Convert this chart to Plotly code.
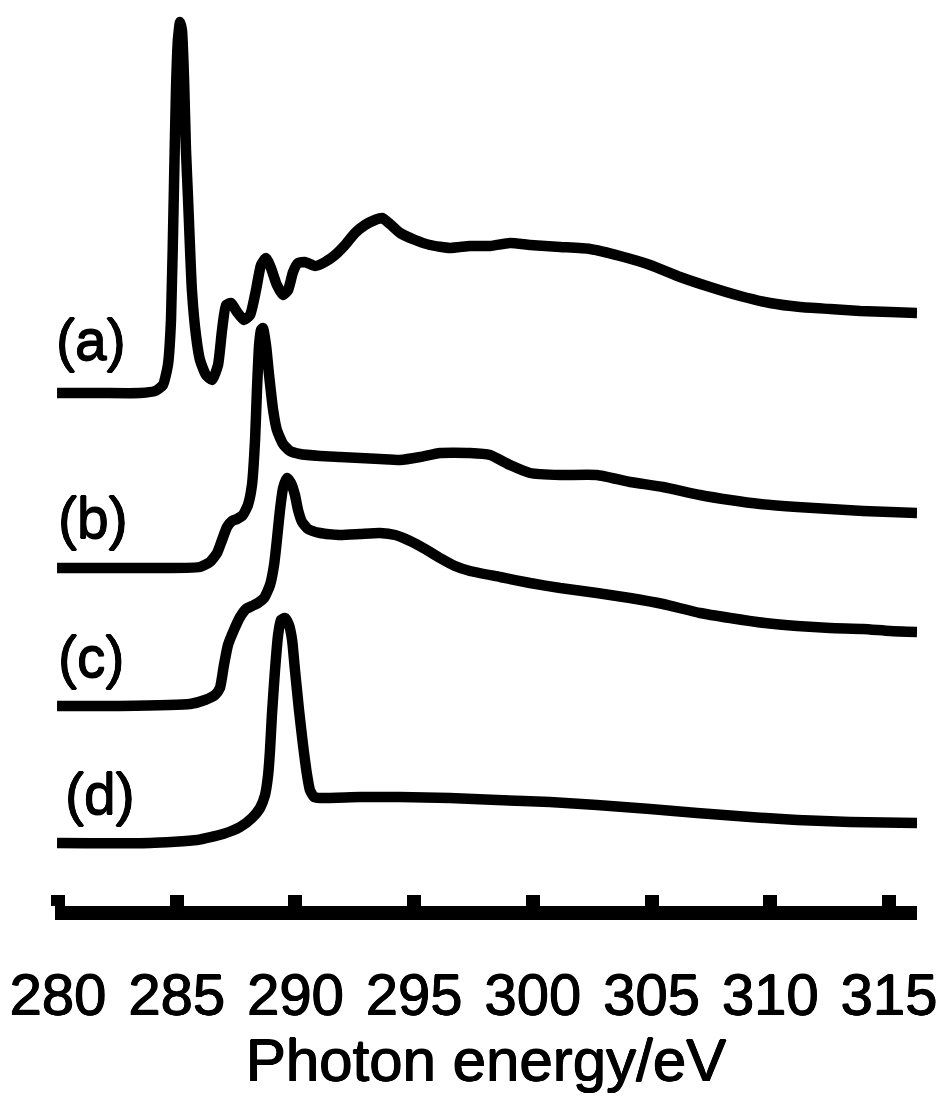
import plotly.graph_objects as go

# ---------------- data (photon energy in eV, intensity in arbitrary units) ----------------
energy_a = [279.96, 281.77, 283.45, 284.09, 284.42, 284.63, 284.76, 284.89, 284.97, 285.05,
            285.14, 285.22, 285.31, 285.39, 285.48, 285.64, 285.81, 285.98, 286.23, 286.49,
            286.74, 286.91, 287.08, 287.29, 287.54, 287.83, 288.09, 288.34, 288.55, 288.76,
            288.97, 289.22, 289.48, 289.69, 289.90, 290.11, 290.40, 290.83, 291.25, 291.67,
            292.09, 292.51, 292.93, 293.35, 293.65, 293.98, 294.41, 295.04, 295.67, 296.51,
            297.35, 298.20, 299.04, 299.88, 301.15, 302.41, 303.67, 304.94, 306.20, 307.46,
            308.73, 309.99, 311.26, 312.52, 313.78, 315.05, 316.18]
intensity_a = [0.00, 0.00, 0.00, 0.02, 0.08, 0.28, 0.73, 2.13, 3.03, 3.53,
               3.71, 3.63, 3.13, 2.43, 1.93, 1.03, 0.58, 0.33, 0.18, 0.13,
               0.28, 0.63, 0.88, 0.90, 0.81, 0.73, 0.78, 1.03, 1.28, 1.35,
               1.25, 1.08, 0.98, 1.03, 1.21, 1.30, 1.31, 1.27, 1.31, 1.38,
               1.48, 1.60, 1.68, 1.73, 1.75, 1.69, 1.60, 1.53, 1.48, 1.45,
               1.47, 1.47, 1.50, 1.48, 1.46, 1.44, 1.37, 1.28, 1.16, 1.06,
               0.97, 0.90, 0.86, 0.84, 0.82, 0.81, 0.80]

energy_b = [279.96, 282.61, 285.98, 286.40, 286.70, 286.91, 287.12, 287.33, 287.54, 287.79,
            288.00, 288.17, 288.30, 288.38, 288.47, 288.55, 288.63, 288.76, 288.89, 289.06,
            289.22, 289.48, 289.77, 290.19, 291.04, 291.88, 292.72, 293.56, 294.41, 295.25,
            296.09, 297.35, 298.20, 299.04, 299.88, 301.15, 302.70, 304.09, 305.48, 307.04,
            308.31, 309.57, 311.13, 312.52, 313.91, 315.05, 316.18]
intensity_b = [0.00, 0.00, 0.01, 0.06, 0.15, 0.28, 0.41, 0.47, 0.49, 0.53,
               0.63, 0.83, 1.28, 1.78, 2.23, 2.38, 2.40, 2.23, 1.93, 1.58,
               1.38, 1.24, 1.17, 1.14, 1.12, 1.11, 1.10, 1.09, 1.08, 1.11,
               1.15, 1.15, 1.13, 1.03, 0.95, 0.93, 0.93, 0.86, 0.81, 0.73,
               0.68, 0.64, 0.61, 0.59, 0.57, 0.56, 0.55]

energy_c = [279.96, 282.61, 285.56, 286.19, 286.61, 286.82, 286.99, 287.16, 287.41, 287.67,
            287.92, 288.17, 288.42, 288.68, 288.93, 289.10, 289.22, 289.35, 289.48, 289.65,
            289.81, 289.98, 290.11, 290.28, 290.53, 291.04, 291.88, 292.72, 293.56, 294.20,
            294.83, 295.46, 296.09, 296.72, 297.35, 298.62, 299.88, 301.15, 302.70, 304.09,
            305.48, 307.04, 308.31, 309.78, 311.13, 312.52, 313.91, 315.05, 316.18]
intensity_c = [0.00, 0.00, 0.02, 0.06, 0.11, 0.18, 0.41, 0.61, 0.76, 0.89,
               0.97, 1.00, 1.03, 1.08, 1.21, 1.41, 1.66, 1.96, 2.18, 2.28,
               2.23, 2.11, 1.96, 1.84, 1.77, 1.73, 1.71, 1.72, 1.73, 1.71,
               1.65, 1.57, 1.48, 1.40, 1.35, 1.29, 1.23, 1.18, 1.13, 1.08,
               1.02, 0.93, 0.88, 0.83, 0.80, 0.78, 0.77, 0.75, 0.74]

energy_d = [279.96, 283.88, 285.86, 286.95, 287.67, 288.17, 288.51, 288.72, 288.85, 288.93,
            289.01, 289.14, 289.27, 289.39, 289.56, 289.73, 289.86, 289.98, 290.15, 290.32,
            290.49, 290.61, 290.78, 291.04, 292.72, 294.41, 296.51, 298.49, 300.72, 302.70,
            304.94, 306.92, 309.15, 311.13, 313.36, 316.18]
intensity_d = [0.00, 0.00, 0.03, 0.09, 0.16, 0.25, 0.35, 0.48, 0.68, 0.93,
               1.28, 1.73, 2.08, 2.23, 2.25, 2.18, 2.03, 1.73, 1.33, 0.98,
               0.68, 0.53, 0.46, 0.45, 0.46, 0.46, 0.45, 0.43, 0.41, 0.38,
               0.34, 0.30, 0.26, 0.23, 0.21, 0.20]

# vertical offsets used to stack the spectra
offsets = {"a": 5.13, "b": 3.38, "c": 2.00, "d": 0.63}

# curve labels and where they sit (energy, stacked intensity)
label_texts = ["(a)", "(b)", "(c)", "(d)"]
label_x = [281.39, 281.47, 281.39, 281.77]
label_y = [5.66, 3.88, 2.49, 1.12]

tick_values = [280, 285, 290, 295, 300, 305, 310, 315]
tick_labels = ["280", "285", "290", "295", "300", "305", "310", "315"]

x_range = [279.874, 316.179]
y_range = [0, 9.06]

FONT = "Arial, 'Liberation Sans', sans-serif"
THICK = "0.6px 0 0 black, -0.6px 0 0 black, 0 0.6px 0 black, 0 -0.6px 0 black"

# ---------------- figure ----------------
fig = go.Figure()
series = [("a", energy_a, intensity_a), ("b", energy_b, intensity_b),
          ("c", energy_c, intensity_c), ("d", energy_d, intensity_d)]
for key, ex, iy in series:
    fig.add_trace(go.Scatter(
        x=ex, y=[v + offsets[key] for v in iy], mode="lines",
        line=dict(color="black", width=10.5, shape="spline", smoothing=0.5),
        showlegend=False, hoverinfo="skip"))

for t, lx, ly in zip(label_texts, label_x, label_y):
    fig.add_annotation(x=lx, y=ly, xref="x", yref="y", text=t, showarrow=False,
                       font=dict(family=FONT, size=57, color="black", shadow=THICK),
                       xanchor="center", yanchor="middle")

fig.update_layout(
    width=941, height=1101,
    margin=dict(l=55, r=24, t=0, b=195),
    paper_bgcolor="white", plot_bgcolor="white",
    showlegend=False,
)
fig.update_xaxes(
    range=x_range, showgrid=False, zeroline=False,
    showline=True, linecolor="black", linewidth=14,
    ticks="inside", ticklen=11, tickwidth=14, tickcolor="black",
    tickmode="array", tickvals=tick_values, ticktext=tick_labels,
    tickfont=dict(family=FONT, size=58, color="black", shadow=THICK),
    ticklabelstandoff=25,
    title=dict(text="Photon energy/eV",
               font=dict(family=FONT, size=60, color="black", shadow=THICK),
               standoff=19),
)
fig.update_yaxes(range=y_range, visible=False, showgrid=False, zeroline=False)

fig.write_html("out.html")
